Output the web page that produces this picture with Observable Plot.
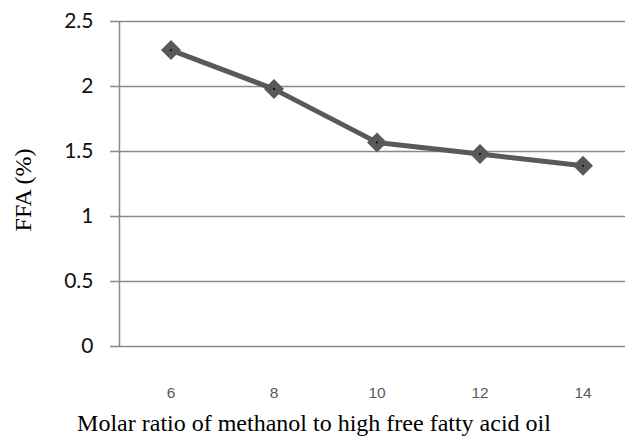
<!DOCTYPE html>
<html>
<head>
<meta charset="utf-8">
<script src="https://cdn.jsdelivr.net/npm/d3@7"></script>
<script src="https://cdn.jsdelivr.net/npm/@observablehq/plot@0.6"></script>
<style>
  html, body { margin: 0; padding: 0; background: #fff; }
  #chart svg { display: block; }
</style>
</head>
<body>
<div id="chart"></div>
<script>
// Molar ratio of methanol to oil vs. remaining free fatty acid content
const molarRatios = [6, 8, 10, 12, 14];
const ffaPercent = [2.28, 1.98, 1.57, 1.48, 1.39];
const yTicks = [0, 0.5, 1, 1.5, 2, 2.5];
const xDomain = [5, 15];
const xLabel = "Molar ratio of methanol to high free fatty acid oil";
const yLabel = "FFA (%)";

const data = molarRatios.map((r, i) => ({ratio: r, ffa: ffaPercent[i]}));

const chart = Plot.plot({
  width: 625,
  height: 439,
  marginLeft: 110,
  marginRight: 0,
  marginTop: 21,
  marginBottom: 93,
  style: {background: "#fff", overflow: "visible"},
  x: {type: "linear", domain: xDomain, range: [119, 634]},
  y: {domain: [0, 2.5]},
  marks: [
    Plot.gridY(yTicks, {stroke: "#8a8a8a", strokeOpacity: 1, strokeWidth: 1.5}),
    Plot.ruleX([xDomain[0]], {y1: 0, y2: 2.5, stroke: "#8a8a8a", strokeWidth: 1.5}),
    Plot.axisY(yTicks, {
      tickSize: 0, tickPadding: 17, label: null,
      fontFamily: "Lato", fontSize: 21, fill: "#111",
      tickFormat: d => String(d)
    }),
    Plot.axisX(molarRatios, {
      tickSize: 0, tickPadding: 40, label: null,
      fontFamily: "Liberation Sans", fontSize: 15.5, fill: "#595959",
      tickFormat: d => String(d)
    }),
    Plot.line(data, {x: "ratio", y: "ffa", stroke: "#595959", strokeWidth: 5}),
    Plot.dot(data, {x: "ratio", y: "ffa", symbol: "diamond2", r: 9, fill: "#595959", stroke: "none"}),
    Plot.dot(data, {x: "ratio", y: "ffa", r: 1, fill: "#000", stroke: "none"}),
    Plot.text([xLabel], {
      frameAnchor: "bottom", dx: -54, dy: 84,
      fontFamily: "Liberation Serif", fontSize: 24, fill: "#000"
    }),
    Plot.text([yLabel], {
      frameAnchor: "left", textAnchor: "middle", rotate: -90, dx: -87, dy: 6,
      fontFamily: "Liberation Serif", fontSize: 24, fill: "#000"
    })
  ]
});

document.getElementById("chart").appendChild(chart);
</script>
</body>
</html>
